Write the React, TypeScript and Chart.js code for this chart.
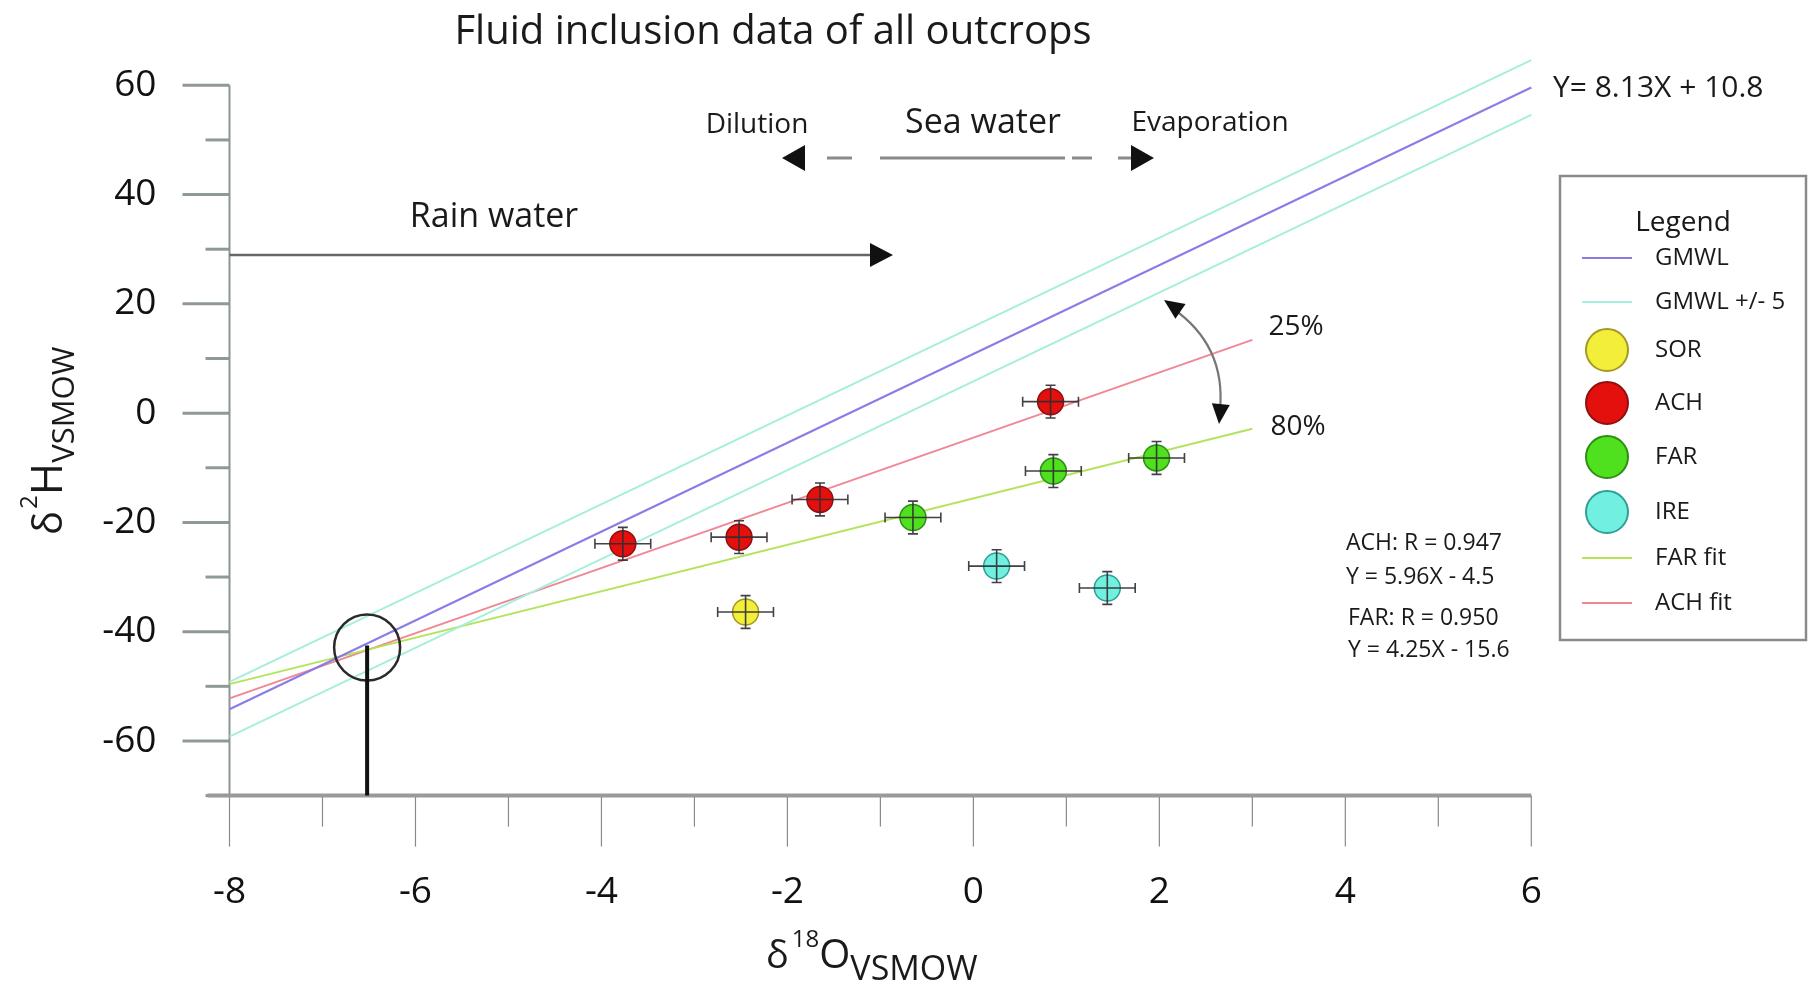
import React, { useEffect, useRef } from "react";
import { Chart, registerables } from "chart.js";
Chart.register(...registerables);

const FONT = "'Open Sans', 'Noto Sans', sans-serif";

// ---- data ----
const lineX = [-8, 6];
const gmwlY = [-54.2, 59.6];
const gmwlUpperY = [-49.2, 64.6];
const gmwlLowerY = [-59.2, 54.6];
const fitX = [-8, 3];
const achFitY = [-52.2, 13.4];
const farFitY = [-49.6, -2.85];

const sorX = [-2.45];
const sorY = [-36.4];
const achX = [-3.77, -2.52, -1.65, 0.83];
const achY = [-23.9, -22.7, -15.8, 2.1];
const farX = [-0.65, 0.86, 1.97];
const farY = [-19.1, -10.6, -8.2];
const ireX = [0.25, 1.44];
const ireY = [-28.0, -32.0];
const errX = 0.3;
const errY = 3;

const xMajorTicks = [-8, -6, -4, -2, 0, 2, 4, 6];
const xMinorTicks = [-7, -5, -3, -1, 1, 3, 5];
const yMajorTicks = [-60, -40, -20, 0, 20, 40, 60];
const yMinorTicks = [-70, -50, -30, -10, 10, 30, 50];

const pts = (xs: number[], ys: number[]) => xs.map((x, i) => ({ x, y: ys[i] }));

const COLORS = {
  sor: { fill: "#f2ee3a", border: "#a39a22" },
  ach: { fill: "#e3100e", border: "#8e1010" },
  far: { fill: "#4fe01e", border: "#2f8e14" },
  ire: { fill: "#72f0df", border: "#2f9f98" },
  gmwl: "#8b7be6",
  gmwl5: "#a6eedd",
  farFit: "#b4e35c",
  achFit: "#f08894",
};

function arrowHead(ctx: CanvasRenderingContext2D, tx: number, ty: number, ang: number, len: number, half: number) {
  ctx.save();
  ctx.translate(tx, ty);
  ctx.rotate(ang);
  ctx.beginPath();
  ctx.moveTo(0, 0);
  ctx.lineTo(-len, -half);
  ctx.lineTo(-len, half);
  ctx.closePath();
  ctx.fillStyle = "#111";
  ctx.fill();
  ctx.restore();
}

function text(ctx: CanvasRenderingContext2D, s: string, x: number, y: number, size: number, align: CanvasTextAlign = "center", base: CanvasTextBaseline = "middle") {
  ctx.font = `${size}px ${FONT}`;
  ctx.textAlign = align;
  ctx.textBaseline = base;
  ctx.fillStyle = "#1a1a1a";
  ctx.fillText(s, x, y);
}

const decor = {
  id: "decor",
  beforeDatasetsDraw(chart: any) {
    const ctx: CanvasRenderingContext2D = chart.ctx;
    const xs = chart.scales.x;
    const ys = chart.scales.y;
    const left = chart.chartArea.left;
    const bottom = chart.chartArea.bottom;
    ctx.save();
    // y axis ticks
    ctx.strokeStyle = "#8f9999";
    ctx.lineWidth = 3;
    yMajorTicks.forEach((v) => {
      const p = ys.getPixelForValue(v);
      ctx.beginPath();
      ctx.moveTo(left - 47, p);
      ctx.lineTo(left, p);
      ctx.stroke();
    });
    yMinorTicks.forEach((v) => {
      const p = ys.getPixelForValue(v);
      ctx.beginPath();
      ctx.moveTo(left - 24, p);
      ctx.lineTo(left, p);
      ctx.stroke();
    });
    // y axis line
    ctx.lineWidth = 2;
    ctx.strokeStyle = "#8a9696";
    ctx.beginPath();
    ctx.moveTo(left, ys.getPixelForValue(60));
    ctx.lineTo(left, bottom);
    ctx.stroke();
    // x ticks
    ctx.strokeStyle = "#8a8a8a";
    ctx.lineWidth = 1.2;
    xMajorTicks.forEach((v) => {
      const p = xs.getPixelForValue(v);
      ctx.beginPath();
      ctx.moveTo(p, bottom);
      ctx.lineTo(p, bottom + 51);
      ctx.stroke();
    });
    xMinorTicks.forEach((v) => {
      const p = xs.getPixelForValue(v);
      ctx.beginPath();
      ctx.moveTo(p, bottom);
      ctx.lineTo(p, bottom + 31);
      ctx.stroke();
    });
    // x axis line
    ctx.strokeStyle = "#9a9a9a";
    ctx.lineWidth = 4;
    ctx.beginPath();
    ctx.moveTo(left - 22, bottom);
    ctx.lineTo(xs.getPixelForValue(6), bottom);
    ctx.stroke();
    ctx.restore();
  },
  afterDatasetsDraw(chart: any) {
    const ctx: CanvasRenderingContext2D = chart.ctx;
    const xs = chart.scales.x;
    const ys = chart.scales.y;
    const X = (v: number) => xs.getPixelForValue(v);
    const Y = (v: number) => ys.getPixelForValue(v);
    ctx.save();

    // error bars
    ctx.strokeStyle = "rgba(45,45,50,0.9)";
    ctx.lineWidth = 1.6;
    const groups: [number[], number[]][] = [
      [sorX, sorY],
      [achX, achY],
      [farX, farY],
      [ireX, ireY],
    ];
    groups.forEach(([gx, gy]) => {
      gx.forEach((vx, i) => {
        const vy = gy[i];
        const cx = X(vx), cy = Y(vy);
        const x0 = X(vx - errX), x1 = X(vx + errX);
        const y0 = Y(vy + errY), y1 = Y(vy - errY);
        ctx.beginPath();
        ctx.moveTo(x0, cy); ctx.lineTo(x1, cy);
        ctx.moveTo(cx, y0); ctx.lineTo(cx, y1);
        ctx.moveTo(x0, cy - 5); ctx.lineTo(x0, cy + 5);
        ctx.moveTo(x1, cy - 5); ctx.lineTo(x1, cy + 5);
        ctx.moveTo(cx - 5, y0); ctx.lineTo(cx + 5, y0);
        ctx.moveTo(cx - 5, y1); ctx.lineTo(cx + 5, y1);
        ctx.stroke();
      });
    });

    // circle and vertical line
    const ccx = X(-6.52), ccy = Y(-42.9);
    ctx.strokeStyle = "#2a2a2a";
    ctx.lineWidth = 2.5;
    ctx.beginPath();
    ctx.arc(ccx, ccy, 33, 0, Math.PI * 2);
    ctx.stroke();
    ctx.lineWidth = 4;
    ctx.strokeStyle = "#111";
    ctx.beginPath();
    ctx.moveTo(ccx, ccy - 2);
    ctx.lineTo(ccx, chart.chartArea.bottom);
    ctx.stroke();

    // Rain water arrow
    ctx.strokeStyle = "#666";
    ctx.lineWidth = 2.5;
    ctx.beginPath();
    ctx.moveTo(chart.chartArea.left, 255);
    ctx.lineTo(872, 255);
    ctx.stroke();
    arrowHead(ctx, 893, 255, 0, 23, 12);
    text(ctx, "Rain water", 494, 217, 34);

    // Sea water arrow
    ctx.strokeStyle = "#8a8a8a";
    ctx.lineWidth = 3;
    const segs = [[827, 852], [880, 1065], [1072, 1092], [1118, 1132]];
    segs.forEach(([a, b]) => {
      ctx.beginPath();
      ctx.moveTo(a, 158);
      ctx.lineTo(b, 158);
      ctx.stroke();
    });
    arrowHead(ctx, 782, 158, Math.PI, 23, 13);
    arrowHead(ctx, 1154, 158, 0, 23, 13);
    text(ctx, "Dilution", 757, 125, 28);
    text(ctx, "Sea water", 983, 123, 34);
    text(ctx, "Evaporation", 1210, 123, 28);

    // equation
    text(ctx, "Y= 8.13X + 10.8", 1553, 88, 30, "left");

    // curved arrow
    const p0 = { x: 1172, y: 308 }, pc = { x: 1226, y: 345 }, p1 = { x: 1220, y: 410 };
    ctx.strokeStyle = "#777";
    ctx.lineWidth = 2.2;
    ctx.beginPath();
    ctx.moveTo(p0.x, p0.y);
    ctx.quadraticCurveTo(pc.x, pc.y, p1.x, p1.y);
    ctx.stroke();
    arrowHead(ctx, 1164, 300, Math.atan2(p0.y - pc.y, p0.x - pc.x), 20, 9);
    arrowHead(ctx, 1219, 424, Math.atan2(p1.y - pc.y, p1.x - pc.x), 20, 9);

    text(ctx, "25%", 1296, 327, 28);
    text(ctx, "80%", 1298, 427, 28);

    text(ctx, "ACH: R = 0.947", 1346, 543, 23, "left");
    text(ctx, "Y = 5.96X - 4.5", 1346, 577, 23, "left");
    text(ctx, "FAR: R = 0.950", 1348, 618, 23, "left");
    text(ctx, "Y = 4.25X - 15.6", 1348, 650, 23, "left");

    // title
    text(ctx, "Fluid inclusion data of all outcrops", 773, 44, 40, "center", "alphabetic");

    // x axis title
    {
      let u = 766;
      ctx.fillStyle = "#1a1a1a";
      ctx.textAlign = "left";
      ctx.textBaseline = "alphabetic";
      ctx.font = `38px ${FONT}`;
      ctx.fillText("δ", u, 968);
      u += ctx.measureText("δ").width + 3;
      ctx.font = `24px ${FONT}`;
      ctx.fillText("18", u, 947);
      u += ctx.measureText("18").width;
      ctx.font = `40px ${FONT}`;
      ctx.fillText("O", u, 968);
      u += ctx.measureText("O").width;
      ctx.font = `34px ${FONT}`;
      ctx.fillText("VSMOW", u, 980);
    }
    // y axis title
    {
      ctx.save();
      ctx.translate(62, 535);
      ctx.rotate(-Math.PI / 2);
      ctx.fillStyle = "#1a1a1a";
      ctx.textAlign = "left";
      ctx.textBaseline = "alphabetic";
      let u = 0;
      ctx.font = `40px ${FONT}`;
      ctx.fillText("δ", u, 0);
      u += ctx.measureText("δ").width + 2;
      ctx.font = `24px ${FONT}`;
      ctx.fillText("2", u, -25);
      u += ctx.measureText("2").width;
      ctx.font = `44px ${FONT}`;
      ctx.fillText("H", u, 0);
      u += ctx.measureText("H").width;
      ctx.font = `31px ${FONT}`;
      ctx.fillText("VSMOW", u, 12);
      ctx.restore();
    }

    // legend box
    ctx.strokeStyle = "#8a8a8a";
    ctx.lineWidth = 2.5;
    ctx.strokeRect(1560, 176, 246, 464);
    text(ctx, "Legend", 1683, 223, 28);
    const lx0 = 1582, lx1 = 1632, lcx = 1607, tx = 1655;
    const lineItem = (y: number, color: string, label: string) => {
      ctx.strokeStyle = color;
      ctx.lineWidth = 2;
      ctx.beginPath();
      ctx.moveTo(lx0, y);
      ctx.lineTo(lx1, y);
      ctx.stroke();
      text(ctx, label, tx, y, 24, "left");
    };
    const dotItem = (y: number, c: { fill: string; border: string }, label: string) => {
      ctx.beginPath();
      ctx.arc(lcx, y, 21, 0, Math.PI * 2);
      ctx.fillStyle = c.fill;
      ctx.fill();
      ctx.strokeStyle = c.border;
      ctx.lineWidth = 2;
      ctx.stroke();
      text(ctx, label, tx, y, 24, "left");
    };
    lineItem(258, COLORS.gmwl, "GMWL");
    lineItem(302, COLORS.gmwl5, "GMWL +/- 5");
    dotItem(350, COLORS.sor, "SOR");
    dotItem(403, COLORS.ach, "ACH");
    dotItem(457, COLORS.far, "FAR");
    dotItem(512, COLORS.ire, "IRE");
    lineItem(558, COLORS.farFit, "FAR fit");
    lineItem(603, COLORS.achFit, "ACH fit");

    ctx.restore();
  },
};

export default function App() {
  const ref = useRef<HTMLCanvasElement>(null);
  useEffect(() => {
    if (!ref.current) return;
    const pointDs = (label: string, xs: number[], ys: number[], c: { fill: string; border: string }) => ({
      label,
      data: pts(xs, ys),
      backgroundColor: c.fill,
      borderColor: c.border,
      borderWidth: 1.5,
      pointRadius: 13,
      pointHoverRadius: 13,
      order: 0,
    });
    const lineDs = (label: string, xs: number[], ys: number[], color: string) => ({
      label,
      data: pts(xs, ys),
      showLine: true,
      borderColor: color,
      backgroundColor: color,
      borderWidth: 2,
      pointRadius: 0,
      pointHoverRadius: 0,
      fill: false,
      clip: false,
      order: 1,
    });
    const chart = new Chart(ref.current, {
      type: "scatter",
      data: {
        datasets: [
          pointDs("SOR", sorX, sorY, COLORS.sor),
          pointDs("ACH", achX, achY, COLORS.ach),
          pointDs("FAR", farX, farY, COLORS.far),
          pointDs("IRE", ireX, ireY, COLORS.ire),
          lineDs("GMWL", lineX, gmwlY, COLORS.gmwl),
          lineDs("GMWL +5", lineX, gmwlUpperY, COLORS.gmwl5),
          lineDs("GMWL -5", lineX, gmwlLowerY, COLORS.gmwl5),
          lineDs("FAR fit", fitX, farFitY, COLORS.farFit),
          lineDs("ACH fit", fitX, achFitY, COLORS.achFit),
        ] as any,
      },
      options: {
        responsive: false,
        animation: false,
        layout: { padding: { left: 0, right: 276.7, top: 85.3, bottom: 40.4 } },
        plugins: { legend: { display: false }, tooltip: { enabled: false }, title: { display: false } },
        scales: {
          x: {
            type: "linear",
            min: -8,
            max: 6,
            afterBuildTicks: (s: any) => {
              s.ticks = xMajorTicks.map((v) => ({ value: v }));
            },
            afterFit: (s: any) => {
              s.height = 150;
            },
            grid: { display: false, drawTicks: true, tickLength: 65 },
            border: { display: false },
            ticks: { font: { family: FONT, size: 37 }, color: "#111", padding: 10, maxRotation: 0, autoSkip: false },
          },
          y: {
            type: "linear",
            min: -70,
            max: 60,
            afterBuildTicks: (s: any) => {
              s.ticks = yMajorTicks.map((v) => ({ value: v }));
            },
            afterFit: (s: any) => {
              s.width = 229.5;
            },
            grid: { display: false, drawTicks: true, tickLength: 63 },
            border: { display: false },
            ticks: { font: { family: FONT, size: 37 }, color: "#111", padding: 10, autoSkip: false },
          },
        },
      } as any,
      plugins: [decor],
    });
    return () => chart.destroy();
  }, []);
  return (
    <div style={{ position: "absolute", left: 0, top: 0, width: 1808, height: 986, background: "#fff" }}>
      <canvas ref={ref} width={1808} height={986} style={{ width: 1808, height: 986, display: "block" }} />
    </div>
  );
}
